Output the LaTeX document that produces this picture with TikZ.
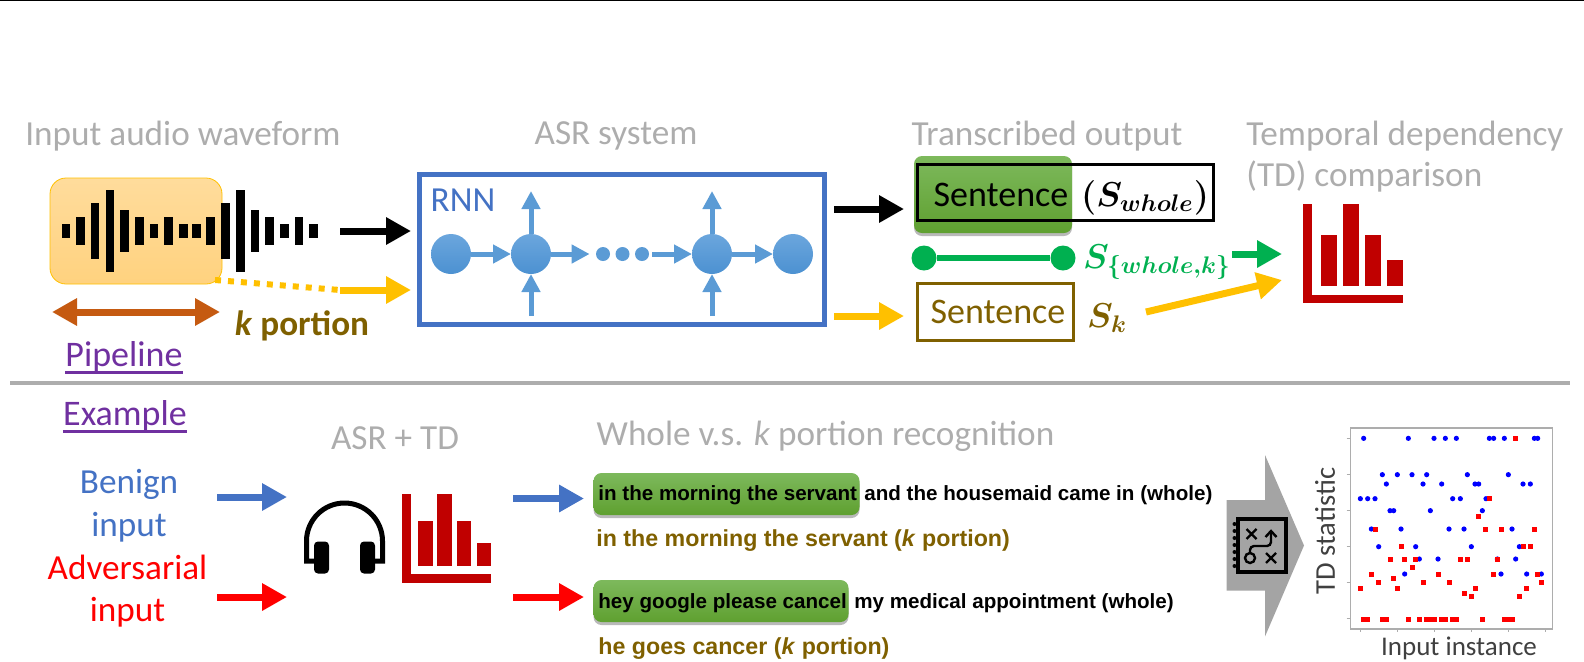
\documentclass[tikz,border=0pt]{standalone}
\usepackage{fontspec}
\setmainfont{Carlito}
\newfontfamily\sentfont{Liberation Sans}
\usetikzlibrary{positioning}
\usetikzlibrary{arrows.meta}
\usetikzlibrary{shadows}

\definecolor{titlegray}{HTML}{ADADAD}
\definecolor{rnnblue}{HTML}{4472C4}
\definecolor{cellblue}{HTML}{5B9BD5}
\definecolor{celltop}{HTML}{6BA6DD}
\definecolor{cellfoot}{HTML}{4C91D1}
\definecolor{kyellow}{HTML}{FFC000}
\definecolor{wavetop}{HTML}{FFDC9C}
\definecolor{wavefoot}{HTML}{FFD27F}
\definecolor{kbrown}{HTML}{7F6000}
\definecolor{spanbrown}{HTML}{C55A11}
\definecolor{headpurple}{HTML}{7030A0}
\definecolor{simgreen}{HTML}{00B050}
\definecolor{barred}{HTML}{C00000}
\definecolor{pointred}{HTML}{FF0000}
\definecolor{pointblue}{HTML}{0000FF}
\definecolor{lightgreen}{HTML}{7DB95C}
\definecolor{darkgreen}{HTML}{5FA030}

\tikzset{
	titletext/.style = {text = titlegray, font = \fontsize{17.6}{19}\selectfont, inner sep = 0pt},
	bigtext/.style = {font = \fontsize{17.6}{19}\selectfont, inner sep = 0pt},
	symtext/.style = {font = \fontsize{17}{19}\selectfont, inner sep = 0pt},
	blockarrow/.style = {-{Triangle[length = 12.5pt, width = 13pt]}, line width = 3.5pt},
	cellarrow/.style = {-{Triangle[length = 9pt, width = 9pt]}, line width = 2.5pt, cellblue},
	rnncell/.style = {circle, top color = celltop, bottom color = cellfoot, minimum size = 20pt, inner sep = 0pt, outer sep = 0pt},
	rnndot/.style = {circle, fill = cellblue, minimum size = 7pt, inner sep = 0pt},
	greenbox/.style = {rounded corners = 4pt, top color = lightgreen, bottom color = darkgreen, inner sep = 0pt,
		drop shadow = {shadow xshift = 0pt, shadow yshift = -1.5pt, opacity = 0.55}},
	sentblack/.style = {font = \sentfont\bfseries\fontsize{10.3}{12}\selectfont, inner sep = 0pt, anchor = west},
	sentbrown/.style = {font = \sentfont\bfseries\fontsize{11.6}{13}\selectfont, inner sep = 0pt, anchor = west, text = kbrown}
}

\begin{document}
\begin{tikzpicture}[x = 0.5pt, y = -0.5pt]
	\useasboundingbox (0, 0) rectangle (1584, 661);
	\draw [black, line width = 0.6pt] (0, 0.5) -- (1584, 0.5);
	\draw [titlegray, line width = 2pt] (10, 382.5) -- (1570, 382.5);

	% headings
	\node (inputtitle) at (183, 136) [titletext] {Input audio waveform};
	\node (asrtitle) at (616, 136) [titletext] {ASR system};
	\node (outputtitle) at (1047, 136) [titletext] {Transcribed output};
	\node (tdtitlea) at (1246, 136) [titletext, anchor = west] {Temporal dependency};
	\node (tdtitleb) at (1246, 176) [titletext, anchor = west] {(TD) comparison};

	% waveform and the k portion over it
	\node (wavebox) at (136, 231) [draw = kyellow, rounded corners = 8pt, top color = wavetop, bottom color = wavefoot, minimum width = 86pt, minimum height = 53pt, inner sep = 0pt] {};
	\foreach \wx/\wh in {66/7, 80.7/14, 95/28, 110/41, 124.7/21, 139.3/14, 154/7, 168.7/14, 183.3/7, 196.3/7, 210.7/14, 225.7/28, 240.3/41, 255/21, 269.7/14, 284.3/7, 299/14, 313.7/7}
		\fill [black] ({\wx - 4.3}, {231 - \wh}) rectangle ({\wx + 4.3}, {231 + \wh});
	\coordinate (wavecorner) at (215, 280);
	\coordinate (waveout) at (340, 231);
	\coordinate (kout) at (340, 290);
	\coordinate (rnnwave) at (411, 231);
	\coordinate (rnnk) at (411, 290);
	\draw [blockarrow, black] (waveout) -- (rnnwave);
	\draw [kyellow, line width = 3pt, dash pattern = on 3pt off 3.5pt] (wavecorner) -- (kout);
	\draw [blockarrow, kyellow] (kout) -- (rnnk);
	\coordinate (spanleft) at (52, 312);
	\coordinate (spanright) at (220, 312);
	\draw [{Triangle[length = 12.5pt, width = 13pt]}-{Triangle[length = 12.5pt, width = 13pt]}, line width = 3.5pt, spanbrown] (spanleft) -- (spanright);
	\node (kportion) at (302, 326) [bigtext, text = kbrown, font = \bfseries\fontsize{17.6}{19}\selectfont] {\textit{k} portion};
	\node (pipeline) at (124, 357) [bigtext, text = headpurple, font = \fontsize{18}{19}\selectfont] {Pipeline};
	\draw [headpurple, line width = 1.5pt] (pipeline.south west |- 0, 372) -- (pipeline.south east |- 0, 372);

	% RNN box
	\node (rnnbox) at (621.5, 249.5) [draw = rnnblue, line width = 2.5pt, minimum width = 202.5pt, minimum height = 75pt, inner sep = 0pt] {};
	\node (rnnlabel) at (463, 200) [bigtext, text = rnnblue] {RNN};
	\node (rnna) at (451, 254) [rnncell] {};
	\node (rnnb) at (531, 254) [rnncell] {};
	\node (rnnc) at (712, 254) [rnncell] {};
	\node (rnnd) at (793, 254) [rnncell] {};
	\node (dota) at (603, 254) [rnndot] {};
	\node (dotb) at (622.5, 254) [rnndot] {};
	\node (dotc) at (642, 254) [rnndot] {};
	\draw [cellarrow] (rnna) -- (rnnb);
	\draw [cellarrow, shorten > = 3pt] (rnnb) -- (dota);
	\draw [cellarrow, shorten < = 1.5pt] (dotc) -- (rnnc);
	\draw [cellarrow] (rnnc) -- (rnnd);
	\foreach \cell/\cx in {rnnb/531, rnnc/712} {
		\coordinate (\cell top) at (\cx, 191);
		\coordinate (\cell foot) at (\cx, 316);
		\draw [cellarrow] (\cell) -- (\cell top);
		\draw [cellarrow] (\cell foot) -- (\cell);
	}

	% transcribed sentences
	\node (wholegreen) at (993, 194.5) [greenbox, minimum width = 79pt, minimum height = 38.5pt] {};
	\node (wholebox) at (1065, 192.5) [draw = black, line width = 1.5pt, minimum width = 148pt, minimum height = 28pt, inner sep = 0pt] {};
	\node (wholetext) at (1001, 195) [bigtext, font = \fontsize{18}{19}\selectfont] {Sentence};
	\node (wholesym) at (1145, 198) [symtext, font = \fontsize{18}{19}\selectfont] {{\boldmath $(S_{whole})$}};
	\node (kbox) at (995, 311.5) [draw = kbrown, line width = 1.5pt, minimum width = 78pt, minimum height = 28.5pt, inner sep = 0pt] {};
	\node (ktext) at (998, 312) [bigtext, font = \fontsize{18}{19}\selectfont, text = kbrown] {Sentence};
	\node (ksym) at (1107, 318) [symtext, text = kbrown] {{\boldmath $S_k$}};
	\node (simleft) at (924, 258) [circle, fill = simgreen, minimum size = 12.5pt, inner sep = 0pt] {};
	\node (simright) at (1063, 258) [circle, fill = simgreen, minimum size = 12.5pt, inner sep = 0pt] {};
	\draw [simgreen, line width = 3.2pt] (simleft) -- (simright);
	\node (simsym) at (1157, 262) [symtext, text = simgreen] {{\boldmath $S_{\{whole,k\}}$}};
	\coordinate (rnnoutw) at (834, 209);
	\coordinate (rnnoutk) at (834, 316);
	\coordinate (wholein) at (904, 209);
	\coordinate (kin) at (904, 316);
	\draw [blockarrow, black] (rnnoutw) -- (wholein);
	\draw [blockarrow, kyellow] (rnnoutk) -- (kin);
	\coordinate (simout) at (1232, 254);
	\coordinate (simin) at (1282, 254);
	\coordinate (koutb) at (1146, 312);
	\coordinate (kinb) at (1282, 280);
	\draw [blockarrow, simgreen] (simout) -- (simin);
	\draw [blockarrow, kyellow] (koutb) -- (kinb);

	% TD bars, top
	\fill [barred] (1302.5, 204) rectangle (1312, 302.5);
	\fill [barred] (1302.5, 295) rectangle (1403, 302.5);
	\fill [barred] (1320.5, 234.5) rectangle (1336.5, 285.5);
	\fill [barred] (1342.5, 204) rectangle (1358.5, 285.5);
	\fill [barred] (1364.5, 234.5) rectangle (1380.5, 285.5);
	\fill [barred] (1387, 259.5) rectangle (1403, 285.5);

	% example part, left
	\node (example) at (125, 416) [bigtext, text = headpurple, font = \fontsize{18}{19}\selectfont] {Example};
	\draw [headpurple, line width = 1.5pt] (example.south west |- 0, 431) -- (example.south east |- 0, 431);
	\node (asrtd) at (395, 438) [titletext] {ASR + TD};
	\node (benign) at (129, 484) [bigtext, text = rnnblue] {Benign};
	\node (benignb) at (129, 527) [bigtext, text = rnnblue] {input};
	\node (adv) at (127.5, 567) [bigtext, text = pointred] {Adversarial};
	\node (advb) at (127.5, 612) [bigtext, text = pointred] {input};
	\coordinate (bena) at (217, 497);
	\coordinate (advc) at (217, 597);
	\coordinate (benin) at (287, 497);
	\coordinate (advin) at (287, 597);
	\coordinate (benout) at (513, 498.5);
	\coordinate (advout) at (513, 597);
	\coordinate (bensent) at (584, 498.5);
	\coordinate (advsent) at (584, 597);
	\draw [blockarrow, rnnblue] (bena) -- (benin);
	\draw [blockarrow, pointred] (advc) -- (advin);
	\draw [blockarrow, rnnblue] (benout) -- (bensent);
	\draw [blockarrow, pointred] (advout) -- (advsent);

	% headphones
	\draw [black, line width = 2.5pt, line cap = round] (314, 561) -- (306.5, 561) -- (306.5, 541) arc (180 : 360 : 38) -- (382.5, 561) -- (375, 561);
	\fill [black, rounded corners = 2pt] (314, 541.5) rectangle (329, 573.5);
	\fill [black, rounded corners = 2pt] (360, 541.5) rectangle (375, 573.5);

	% TD bars, bottom
	\fill [barred] (402, 493.5) rectangle (410.5, 582.5);
	\fill [barred] (402, 574) rectangle (490.5, 582.5);
	\fill [barred] (417.5, 520.5) rectangle (432.5, 566);
	\fill [barred] (437, 493.5) rectangle (451.5, 566);
	\fill [barred] (456.5, 520.5) rectangle (471, 566);
	\fill [barred] (476.5, 542.5) rectangle (490.5, 566);

	% recognised text
	\node (recogtitle) at (825.5, 436) [titletext] {Whole v.s. \textit{k} portion recognition};
	\node (sentgreena) at (726.5, 494) [greenbox, minimum width = 133pt, minimum height = 21pt] {};
	\node (sentgreenb) at (721, 601) [greenbox, minimum width = 127.5pt, minimum height = 21pt] {};
	\node (sentwa) at (598, 495) [sentblack] {in the morning the servant};
	\node (sentwb) at (864, 495) [sentblack] {and the housemaid came in (whole)};
	\node (sentka) at (596, 541) [sentbrown] {in the morning the servant (\textit{k} portion)};
	\node (sentwc) at (598, 603) [sentblack] {hey google please cancel};
	\node (sentwd) at (854, 603) [sentblack] {my medical appointment (whole)};
	\node (sentkb) at (598, 649) [sentbrown] {he goes cancer (\textit{k} portion)};

	% big arrow with the decision icon
	\fill [titlegray!95!black] (1226.5, 500) -- (1265, 500) -- (1265, 455) -- (1304, 545.5) -- (1265, 636.5) -- (1265, 590.5) -- (1226.5, 590.5) -- cycle;
	\draw [black, line width = 2pt] (1238, 519) rectangle (1285.5, 572);
	\foreach \by in {524, 531, 538, 545, 552, 559, 566}
		\fill [black] (1234.5, \by) circle (2);
	\draw [black, line width = 1.2pt] (1246.5, 529) -- (1256.5, 539) (1246.5, 539) -- (1256.5, 529);
	\draw [black, line width = 1.2pt] (1266, 553) -- (1276, 563) (1266, 563) -- (1276, 553);
	\draw [black, line width = 1.2pt] (1250, 558) circle (5);
	\draw [black, line width = 1.2pt, rounded corners = 2pt] (1250, 553) -- (1250, 546) -- (1271, 546) -- (1271, 532);
	\draw [black, line width = 1.2pt] (1265.5, 537) -- (1271, 531) -- (1276.5, 537);

	% scatter plot of the TD statistic
	\node (scatter) at (1451.5, 528.5) [draw = titlegray, line width = 0.8pt, minimum width = 101pt, minimum height = 100.5pt, inner sep = 0pt] {};
	\foreach \ty in {85, 193, 302, 410, 518, 626}
		\draw [titlegray, line width = 0.4pt] ({1200 + 440 / 3}, {410 + \ty / 3}) -- (1350, {410 + \ty / 3});
	\foreach \tx in {482, 592, 703, 814, 925, 1035}
		\draw [titlegray, line width = 0.4pt] ({1200 + \tx / 3}, 629.5) -- ({1200 + \tx / 3}, 632);
	\foreach \px/\py in {491/85, 625/85, 702/85, 736/85, 769/85, 868/85, 881/85, 913/85, 1003/85, 1013/85, 547/194, 592/194, 636/194, 680/194, 802/194, 925/194, 559/222, 669/222, 725/222, 825/222, 836/222, 969/222, 991/222, 481/266, 503/266, 525/266, 758/266, 781/266, 858/266, 570/302, 581/302, 691/302, 847/302, 514/357, 603/357, 747/357, 792/357, 936/357, 536/410, 647/410, 814/410, 958/410, 658/447, 714/447, 892/447, 947/447, 614/492, 903/492, 980/492, 1024/492}
		\fill [pointblue] ({1200 + \px / 3}, {410 + \py / 3}) circle (2.6);
	\foreach \px/\py in {947/85, 869/266, 836/318, 525/357, 857/357, 903/357, 1003/357, 603/410, 969/410, 991/410, 570/447, 614/447, 647/447, 781/447, 803/447, 892/447, 636/472, 514/492, 714/492, 881/492, 1013/492, 581/506, 536/518, 669/518, 747/518, 1024/518, 481/536, 592/536, 825/536, 980/536, 792/550, 814/559, 958/559, 491/627, 503/627, 547/627, 559/627, 625/627, 658/627, 680/627, 691/627, 703/627, 725/627, 736/627, 758/627, 769/627, 847/627, 913/627, 925/627, 936/627}
		\fill [pointred] ({1200 + \px / 3 - 2.5}, {410 + \py / 3 - 2.5}) rectangle ({1200 + \px / 3 + 2.5}, {410 + \py / 3 + 2.5});
	\node (ylabel) at (1325, 531) [inner sep = 0pt, rotate = 90, text = black!75, font = \fontsize{14.3}{15}\selectfont] {TD statistic};
	\node (xlabel) at (1459, 648) [inner sep = 0pt, text = black!75, font = \fontsize{13.5}{15}\selectfont] {Input instance};
\end{tikzpicture}
\end{document}
